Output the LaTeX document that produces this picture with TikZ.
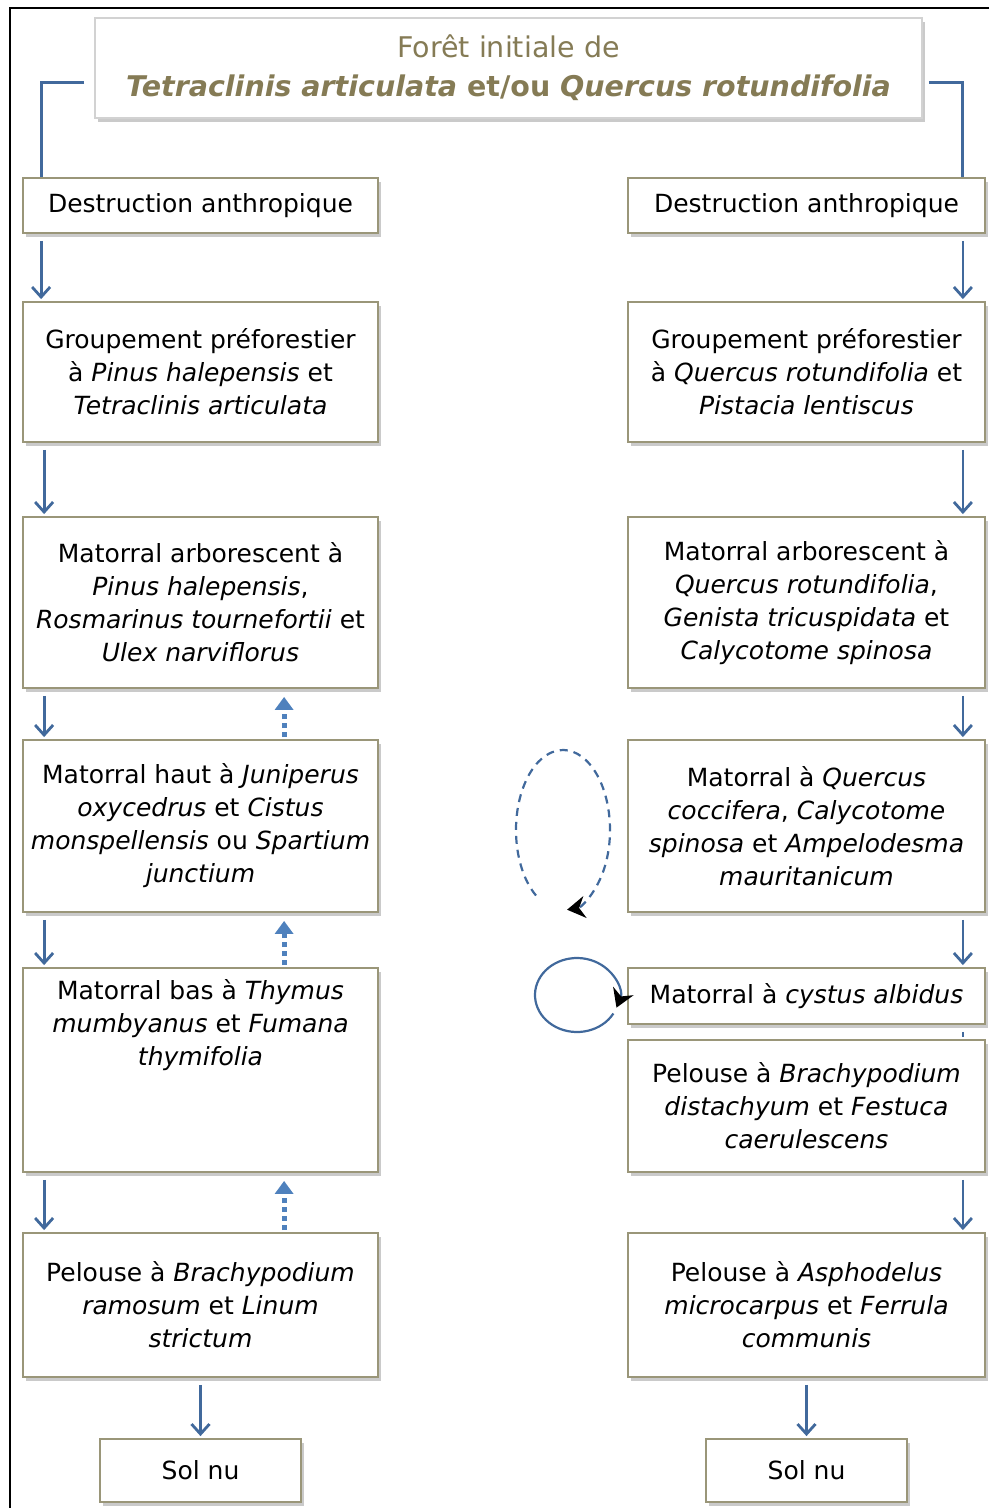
\documentclass[tikz,border=0pt]{standalone}
\usepackage{fontspec}
\setmainfont{DejaVu Sans}
\usetikzlibrary{positioning,arrows.meta,shadows}

\definecolor{arrowblue}{HTML}{41699C}
\definecolor{dotblue}{HTML}{4F81BD}
\definecolor{boxline}{HTML}{9A9679}
\definecolor{titletext}{HTML}{857B55}

\tikzset{
  stage/.style={draw=boxline, line width=1.8pt, fill=white, align=center, inner sep=4pt,
    drop shadow={shadow xshift=3pt, shadow yshift=-4pt, opacity=0.35, fill=black!60},
    font=\fontsize{25}{33}\selectfont},
  colbox/.style={stage, minimum width=355pt},
  txt/.style={align=center, inner sep=0pt, font=\fontsize{25}{33}\selectfont},
  down/.style={arrowblue, line width=2.8pt, shorten <=7pt, shorten >=2pt,
    -{Straight Barb[length=10pt,width=18pt]}},
  back/.style={dotblue, line width=5pt, dash pattern=on 5pt off 4pt, shorten <=2pt, shorten >=8pt,
    -{Triangle[length=13pt,width=18pt]}},
  loopline/.style={arrowblue, line width=2.2pt, -{Stealth[length=18pt,width=22pt,color=black]}},
}

\begin{document}
\begin{tikzpicture}[x=1pt, y=1pt]
  \useasboundingbox (0,0) rectangle (989,-1508);

  % Frame
  \draw[line width=2.5pt] (989,-8) -- (10,-8) -- (10,-1508);

  % Title
  \node[stage, draw=gray!35, minimum width=827pt, minimum height=100pt, text=titletext,
    font=\fontsize{28.5}{39}\selectfont] (title) at (508.5,-68)
    {Forêt initiale de\\ \textbf{\textit{Tetraclinis articulata} et/ou \textit{Quercus rotundifolia}}};

  % Left column
  \node[colbox, minimum height=55pt] (ld) at (200.5,-205.5) {Destruction anthropique};
  \node[colbox, minimum height=140pt] (lg) at (200.5,-372) {Groupement préforestier\\ à \textit{Pinus halepensis} et\\ \textit{Tetraclinis articulata}};
  \node[colbox, minimum height=171pt] (la) at (200.5,-602.5) {Matorral arborescent à\\ \textit{Pinus halepensis},\\ \textit{Rosmarinus tournefortii} et\\ \textit{Ulex narviflorus}};
  \node[colbox, minimum height=172pt] (lh) at (200.5,-826) {Matorral haut à \textit{Juniperus}\\ \textit{oxycedrus} et \textit{Cistus}\\ \textit{monspellensis} ou \textit{Spartium}\\ \textit{junctium}};
  \node[colbox, minimum height=204pt] (lb) at (200.5,-1070) {};
  \node[txt, below=12pt of lb.north] (lbtxt) {Matorral bas à \textit{Thymus}\\ \textit{mumbyanus} et \textit{Fumana}\\ \textit{thymifolia}};
  \node[colbox, minimum height=144pt] (lp) at (200.5,-1305) {Pelouse à \textit{Brachypodium}\\ \textit{ramosum} et \textit{Linum}\\ \textit{strictum}};
  \node[stage, minimum width=201pt, minimum height=63pt] (ls) at (200.5,-1470.5) {Sol nu};

  % Right column
  \node[colbox, minimum width=357pt, minimum height=55pt] (rd) at (806.5,-205.5) {Destruction anthropique};
  \node[colbox, minimum width=357pt, minimum height=140pt] (rg) at (806.5,-372) {Groupement préforestier\\ à \textit{Quercus rotundifolia} et\\ \textit{Pistacia lentiscus}};
  \node[colbox, minimum width=357pt, minimum height=171pt] (ra) at (806.5,-602.5) {Matorral arborescent à\\ \textit{Quercus rotundifolia},\\ \textit{Genista tricuspidata} et\\ \textit{Calycotome spinosa}};
  \node[colbox, minimum width=357pt, minimum height=172pt] (rq) at (806.5,-826) {Matorral à \textit{Quercus}\\ \textit{coccifera}, \textit{Calycotome}\\ \textit{spinosa} et \textit{Ampelodesma}\\ \textit{mauritanicum}};
  \node[colbox, minimum width=357pt, minimum height=56pt] (rc) at (806.5,-996) {Matorral à \textit{cystus albidus}};
  \node[colbox, minimum width=357pt, minimum height=132pt] (rp) at (806.5,-1106) {Pelouse à \textit{Brachypodium}\\ \textit{distachyum} et \textit{Festuca}\\ \textit{caerulescens}};
  \node[colbox, minimum width=357pt, minimum height=144pt] (rf) at (806.5,-1305) {Pelouse à \textit{Asphodelus}\\ \textit{microcarpus} et \textit{Ferrula}\\ \textit{communis}};
  \node[stage, minimum width=201pt, minimum height=63pt] (rs) at (806.5,-1470.5) {Sol nu};

  % From the title
  \draw[arrowblue, line width=3pt] ([xshift=-10pt,yshift=-14pt]title.west) -| ([xshift=19pt]ld.north west);
  \draw[arrowblue, line width=3pt] ([xshift=6pt,yshift=-14pt]title.east) -| ([xshift=-23pt]rd.north east);

  % Degradation arrows, left
  \draw[down] ([xshift=19pt]ld.south west) -- ([xshift=19pt]lg.north west);
  \draw[down] ([xshift=22pt]lg.south west) -- ([xshift=22pt]la.north west);
  \draw[down] ([xshift=22pt]la.south west) -- ([xshift=22pt]lh.north west);
  \draw[down] ([xshift=22pt]lh.south west) -- ([xshift=22pt]lb.north west);
  \draw[down] ([xshift=22pt]lb.south west) -- ([xshift=22pt]lp.north west);
  \draw[down] (lp.south) -- (ls.north);

  % Recovery arrows, left
  \draw[back] ([xshift=262pt]lh.north west) -- ([xshift=262pt]la.south west);
  \draw[back] ([xshift=262pt]lb.north west) -- ([xshift=262pt]lh.south west);
  \draw[back] ([xshift=262pt]lp.north west) -- ([xshift=262pt]lb.south west);

  % Degradation arrows, right
  \draw[down] ([xshift=-23pt]rd.south east) -- ([xshift=-23pt]rg.north east);
  \draw[down] ([xshift=-23pt]rg.south east) -- ([xshift=-23pt]ra.north east);
  \draw[down] ([xshift=-23pt]ra.south east) -- ([xshift=-23pt]rq.north east);
  \draw[down] ([xshift=-23pt]rq.south east) -- ([xshift=-23pt]rc.north east);
  \draw[arrowblue, line width=2.8pt, shorten <=7pt, shorten >=2pt] ([xshift=-23pt]rc.south east) -- ([xshift=-23pt]rp.north east);
  \draw[down] ([xshift=-23pt]rp.south east) -- ([xshift=-23pt]rf.north east);
  \draw[down] (rf.south) -- (rs.north);

  % Loops
  \coordinate (loopq) at (563,-830);
  \coordinate (loopc) at (577,-995);
  \draw[loopline, dash pattern=on 8pt off 6pt] ([shift={(235:47 and 80)}]loopq)
    arc[start angle=235, end angle=-85, x radius=47, y radius=80];
  \draw[loopline] ([shift={(330:42 and 37)}]loopc)
    arc[start angle=330, end angle=-20, x radius=42, y radius=37];
\end{tikzpicture}
\end{document}
